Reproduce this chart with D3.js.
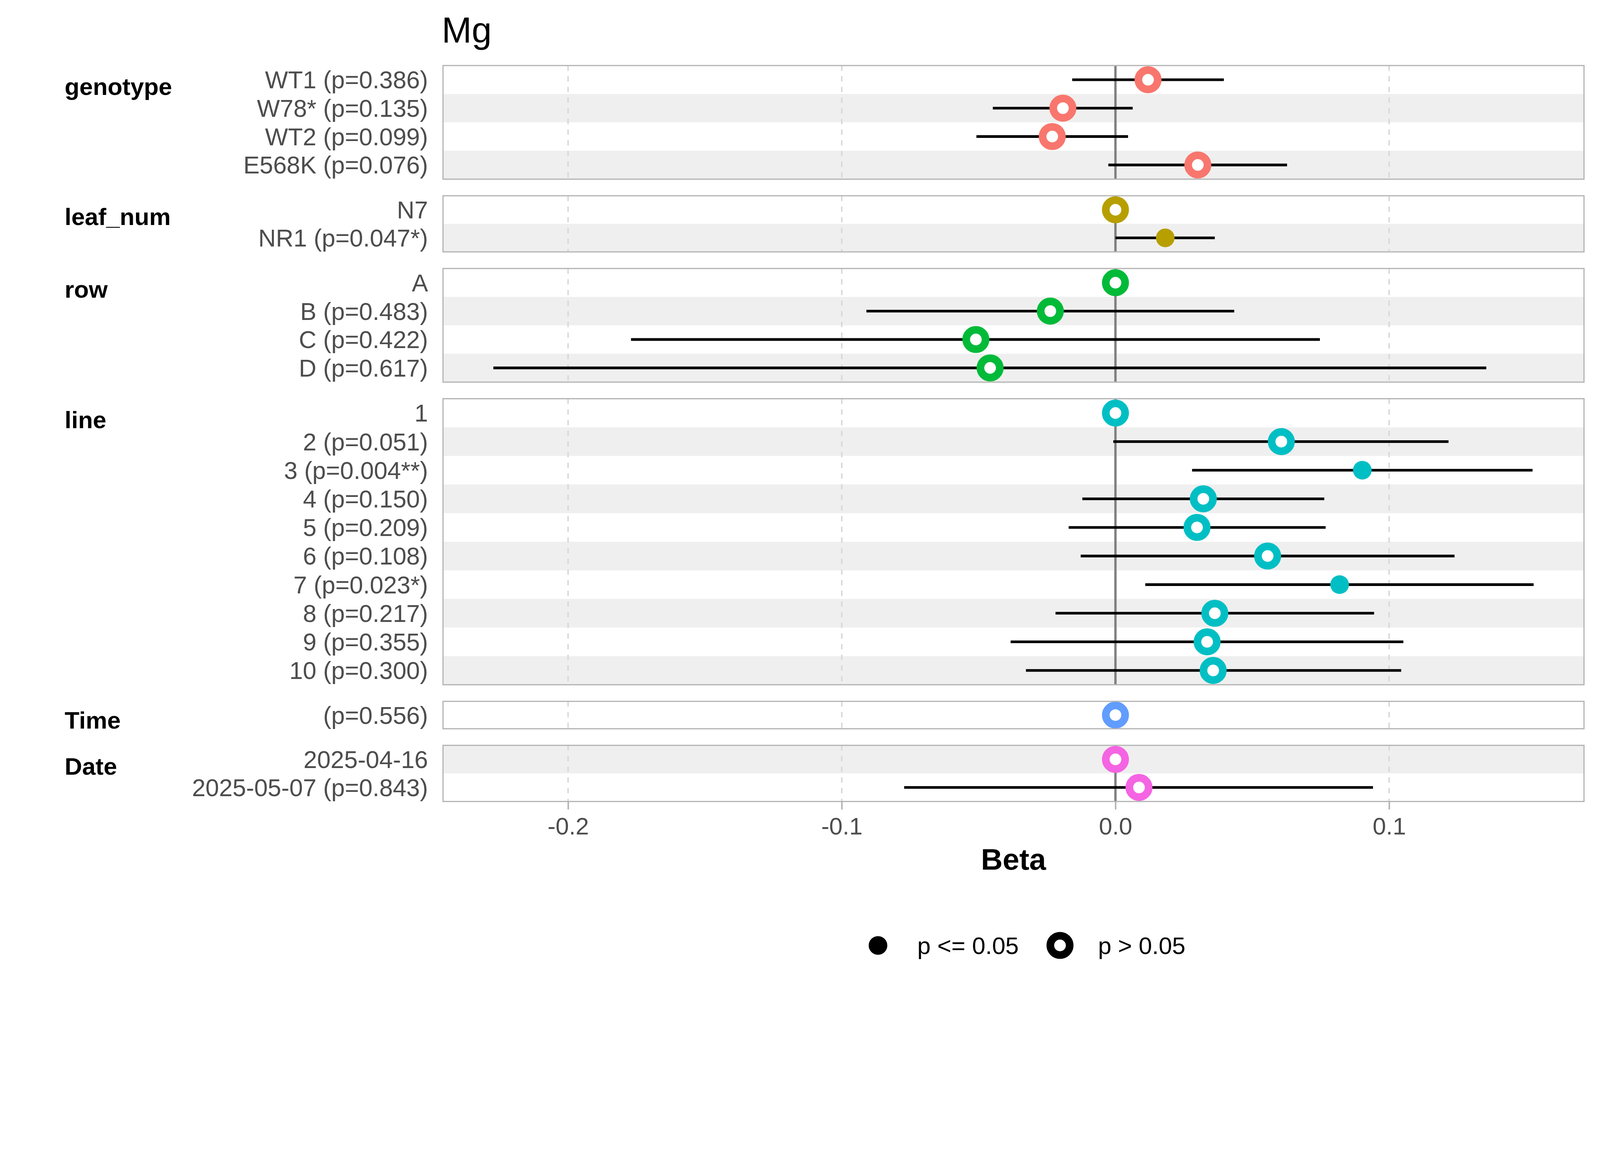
<!DOCTYPE html>
<html>
<head>
<meta charset="utf-8">
<script src="https://cdn.jsdelivr.net/npm/d3@7"></script>
<style>
  html, body { margin: 0; padding: 0; background: #ffffff; overflow: hidden; }
  #chart { display: block; width: 100vw; height: 100vh; }
  text { font-family: "Liberation Sans", Arial, sans-serif; }
</style>
</head>
<body>
<svg id="chart" viewBox="0 0 4800 3000" preserveAspectRatio="xMidYMin meet"></svg>
<script>
// ===== Mg 회귀계수 forest plot =====

// 그룹(패널) 목록과 색상
const groups = ["genotype", "leaf_num", "row", "line", "Time", "Date"];
const groupColors = ["#F8766D", "#B79F00", "#00BA38", "#00BFC4", "#619CFF", "#F564E3"];

// 각 행이 속한 그룹
const rowGroup = [
  "genotype", "genotype", "genotype", "genotype",
  "leaf_num", "leaf_num",
  "row", "row", "row", "row",
  "line", "line", "line", "line", "line", "line", "line", "line", "line", "line",
  "Time",
  "Date", "Date"
];

// y축 라벨
const rowLabels = [
  "WT1 (p=0.386)", "W78* (p=0.135)", "WT2 (p=0.099)", "E568K (p=0.076)",
  "N7", "NR1 (p=0.047*)",
  "A", "B (p=0.483)", "C (p=0.422)", "D (p=0.617)",
  "1", "2 (p=0.051)", "3 (p=0.004**)", "4 (p=0.150)", "5 (p=0.209)",
  "6 (p=0.108)", "7 (p=0.023*)", "8 (p=0.217)", "9 (p=0.355)", "10 (p=0.300)",
  "(p=0.556)",
  "2025-04-16", "2025-05-07 (p=0.843)"
];

// 계수(beta)와 신뢰구간 (기준 범주는 null)
const beta = [
  0.0119, -0.0192, -0.0231, 0.0301,
  0, 0.0182,
  0, -0.0238, -0.0510, -0.0458,
  0, 0.0606, 0.0902, 0.0321, 0.0298, 0.0556, 0.0819, 0.0363, 0.0335, 0.0357,
  0,
  0, 0.0086
];
const lower = [
  -0.0158, -0.0448, -0.0508, -0.0026,
  null, 0.0000,
  null, -0.0910, -0.1770, -0.2273,
  null, -0.0008, 0.0280, -0.0121, -0.0171, -0.0127, 0.0109, -0.0219, -0.0383, -0.0327,
  -0.0004,
  null, -0.0772
];
const upper = [
  0.0396, 0.0063, 0.0046, 0.0627,
  null, 0.0363,
  null, 0.0434, 0.0747, 0.1355,
  null, 0.1217, 0.1524, 0.0763, 0.0768, 0.1239, 0.1528, 0.0945, 0.1052, 0.1044,
  0.0004,
  null, 0.0941
];
const pValues = [
  0.386, 0.135, 0.099, 0.076,
  null, 0.047,
  null, 0.483, 0.422, 0.617,
  null, 0.051, 0.004, 0.150, 0.209, 0.108, 0.023, 0.217, 0.355, 0.300,
  0.556,
  null, 0.843
];

// x축 눈금
const xTicks = [-0.2, -0.1, 0.0, 0.1];
const legendLabels = ["p <= 0.05", "p > 0.05"];

// ===== 레이아웃 =====
const svg = d3.select("#chart");
const panelLeft = 1329, panelRight = 4752;
const unitH = 86.2, panelInset = 4, panelGap = 49.8, firstTop = 196.6;
const textGrey = "#4D4D4D";
const borderGrey = "#B3B3B3";
const fontFamily = "Liberation Sans, Arial, sans-serif";

svg.append("rect").attr("width", 4800).attr("height", 3000).attr("fill", "#fff");

const x = d3.scaleLinear().domain([-0.2457, 0.1712]).range([panelLeft, panelRight]);

const rows = rowLabels.map((label, i) => ({
  i, label, group: rowGroup[i], beta: beta[i], lo: lower[i], hi: upper[i], p: pValues[i]
}));

// 패널 위치 계산
let cursor = firstTop;
const panels = groups.map((g, gi) => {
  const members = rows.filter(r => r.group === g);
  const h = members.length * unitH - panelInset;
  const panel = { name: g, color: groupColors[gi], rows: members, top: cursor, bottom: cursor + h };
  panel.y = d3.scaleBand().domain(members.map(r => r.i)).range([panel.top, panel.bottom]);
  cursor += h + panelGap;
  return panel;
});

const isSig = r => r.p !== null && r.p <= 0.05;

// 제목
svg.append("text")
  .attr("x", panelLeft - 4).attr("y", 128)
  .attr("font-size", 108).attr("fill", "#000").attr("font-family", fontFamily)
  .text("Mg");

panels.forEach(panel => {
  const g = svg.append("g").attr("class", "panel-" + panel.name);
  const y = panel.y;
  const cy = r => y(r.i) + y.bandwidth() / 2;

  // 줄무늬 배경 (전체 행 기준으로 번갈아)
  g.selectAll("rect.band")
    .data(panel.rows.filter(r => r.i % 2 === 1))
    .join("rect")
    .attr("class", "band")
    .attr("x", panelLeft).attr("width", panelRight - panelLeft)
    .attr("y", r => y(r.i)).attr("height", y.bandwidth())
    .attr("fill", "#EFEFEF");

  // 세로 점선 격자
  g.selectAll("line.grid")
    .data(xTicks)
    .join("line")
    .attr("class", "grid")
    .attr("x1", d => x(d)).attr("x2", d => x(d))
    .attr("y1", panel.top).attr("y2", panel.bottom)
    .attr("stroke", "#D9D9D9").attr("stroke-width", 4.5)
    .attr("stroke-dasharray", "16,16");

  // 0 기준선
  g.append("line")
    .attr("x1", x(0)).attr("x2", x(0))
    .attr("y1", panel.top).attr("y2", panel.bottom)
    .attr("stroke", "#7F7F7F").attr("stroke-width", 7);

  // 신뢰구간
  g.selectAll("line.ci")
    .data(panel.rows.filter(r => r.lo !== null))
    .join("line")
    .attr("class", "ci")
    .attr("x1", r => x(r.lo)).attr("x2", r => x(r.hi))
    .attr("y1", cy).attr("y2", cy)
    .attr("stroke", "#000").attr("stroke-width", 8);

  // 점: 유의하면 채운 원, 아니면 속 빈 원
  g.selectAll("circle.pt")
    .data(panel.rows)
    .join("circle")
    .attr("class", "pt")
    .attr("cx", r => x(r.beta))
    .attr("cy", cy)
    .attr("r", r => isSig(r) ? 28 : 29)
    .attr("fill", r => isSig(r) ? panel.color : "#fff")
    .attr("stroke", r => isSig(r) ? "none" : panel.color)
    .attr("stroke-width", 23);

  // 패널 테두리
  g.append("rect")
    .attr("x", panelLeft).attr("y", panel.top)
    .attr("width", panelRight - panelLeft).attr("height", panel.bottom - panel.top)
    .attr("fill", "none").attr("stroke", borderGrey).attr("stroke-width", 3.5);

  // 행 라벨
  g.selectAll("text.rowlab")
    .data(panel.rows)
    .join("text")
    .attr("class", "rowlab")
    .attr("x", 1284)
    .attr("y", r => cy(r) + 26)
    .attr("text-anchor", "end")
    .attr("font-size", 73).attr("fill", textGrey).attr("font-family", fontFamily)
    .text(r => r.label);

  // 그룹 라벨
  g.append("text")
    .attr("x", 194)
    .attr("y", Math.min(panel.top + 88, panel.bottom))
    .attr("font-size", 72.5).attr("font-weight", "bold").attr("fill", "#000")
    .attr("font-family", fontFamily)
    .text(panel.name);
});

// x축
const lastPanel = panels[panels.length - 1];
const axis = svg.append("g")
  .attr("transform", `translate(0,${lastPanel.bottom})`)
  .call(d3.axisBottom(x).tickValues(xTicks).tickFormat(d => d.toFixed(1)).tickSize(24).tickPadding(24));
axis.select(".domain").remove();
axis.selectAll(".tick line").attr("stroke", borderGrey).attr("stroke-width", 4.5);
axis.selectAll(".tick text")
  .attr("font-size", 72).attr("fill", textGrey)
  .attr("font-family", fontFamily);

svg.append("text")
  .attr("x", (panelLeft + panelRight) / 2).attr("y", 2609)
  .attr("text-anchor", "middle")
  .attr("font-size", 90).attr("font-weight", "bold").attr("fill", "#000")
  .attr("font-family", fontFamily)
  .text("Beta");

// 범례
const legendY = 2836;
const legend = svg.append("g").attr("class", "legend");
legend.append("circle").attr("cx", 2634).attr("cy", legendY).attr("r", 28).attr("fill", "#000");
legend.append("text").attr("x", 2752).attr("y", legendY + 26)
  .attr("font-size", 72).attr("fill", "#000").attr("font-family", fontFamily)
  .text(legendLabels[0]);
legend.append("circle").attr("cx", 3180).attr("cy", legendY).attr("r", 29)
  .attr("fill", "#fff").attr("stroke", "#000").attr("stroke-width", 23);
legend.append("text").attr("x", 3294).attr("y", legendY + 26)
  .attr("font-size", 72).attr("fill", "#000").attr("font-family", fontFamily)
  .text(legendLabels[1]);
</script>
</body>
</html>
